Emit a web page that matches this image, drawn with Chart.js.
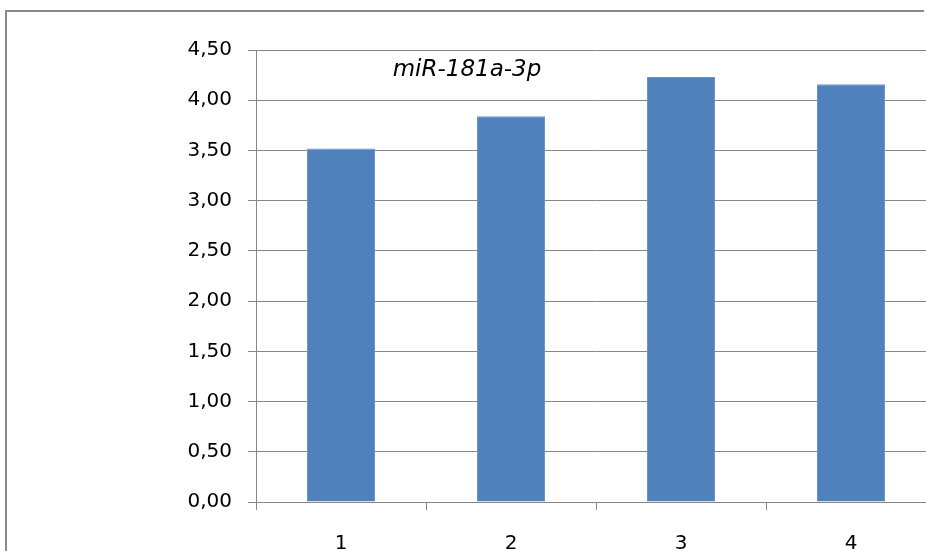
<!DOCTYPE html>
<html>
<head>
<meta charset="utf-8">
<script src="https://cdn.jsdelivr.net/npm/chart.js@4/dist/chart.umd.min.js"></script>
<style>
  html, body { margin: 0; padding: 0; background: #ffffff; }
  #wrap { position: relative; width: 926px; height: 551px; overflow: hidden; }
  #c { position: absolute; left: 0; top: 0; }
</style>
</head>
<body>
<div id="wrap"><canvas id="c" width="940" height="600"></canvas></div>
<script>
// Expression level per sample
const categories = ['1', '2', '3', '4'];
const values = [3.52, 3.84, 4.23, 4.16];
const yTicks = [0, 0.5, 1, 1.5, 2, 2.5, 3, 3.5, 4, 4.5];
const chartTitle = 'miR-181a-3p';

const FONT = '"DejaVu Sans", sans-serif';
const GRID = '#868686';

// Outer frame of the chart object (left and top edges)
const frame = {
  id: 'frame',
  beforeDraw(chart) {
    const { ctx } = chart;
    ctx.save();
    ctx.strokeStyle = '#8a8a8a';
    ctx.lineWidth = 2;
    ctx.beginPath();
    ctx.moveTo(6, chart.height);
    ctx.lineTo(6, 11);
    ctx.lineTo(924, 11);
    ctx.stroke();
    ctx.restore();
  }
};

// Draws the italic label inside the plot area
const innerTitle = {
  id: 'innerTitle',
  afterDatasetsDraw(chart) {
    const { ctx, chartArea } = chart;
    ctx.save();
    ctx.font = 'italic 23px ' + FONT;
    ctx.fillStyle = '#000000';
    ctx.textAlign = 'center';
    ctx.textBaseline = 'alphabetic';
    ctx.fillText(chartTitle, chartArea.left + 211, chartArea.top + 26);
    ctx.restore();
  }
};

new Chart(document.getElementById('c'), {
  type: 'bar',
  data: {
    labels: categories,
    datasets: [{
      data: values,
      backgroundColor: '#4f81bd',
      borderColor: '#6a93c8',
      borderWidth: 1,
      barPercentage: 0.4,
      categoryPercentage: 1.0
    }]
  },
  options: {
    responsive: false,
    animation: false,
    devicePixelRatio: 1,
    layout: { padding: { top: 50, left: 0, right: 4, bottom: 0 } },
    plugins: {
      legend: { display: false },
      tooltip: { enabled: false },
      title: { display: false }
    },
    scales: {
      x: {
        offset: true,
        grid: {
          offset: true,
          drawOnChartArea: false,
          drawTicks: true,
          tickLength: 8,
          color: GRID,
          lineWidth: 1
        },
        border: { display: true, color: GRID, width: 1 },
        ticks: {
          color: '#000000',
          font: { family: FONT, size: 20 },
          padding: 22,
          maxRotation: 0
        },
        afterFit(scale) { scale.height = 98; }
      },
      y: {
        min: 0,
        max: 4.5,
        afterBuildTicks(scale) { scale.ticks = yTicks.map(v => ({ value: v })); },
        grid: {
          drawOnChartArea: true,
          drawTicks: true,
          tickLength: 8,
          color: GRID,
          lineWidth: 1
        },
        border: { display: true, color: GRID, width: 1 },
        ticks: {
          color: '#000000',
          font: { family: FONT, size: 20 },
          padding: 16,
          callback: v => Number(v).toFixed(2).replace('.', ',')
        },
        afterFit(scale) { scale.width = 256; }
      }
    }
  },
  plugins: [frame, innerTitle]
});
</script>
</body>
</html>
